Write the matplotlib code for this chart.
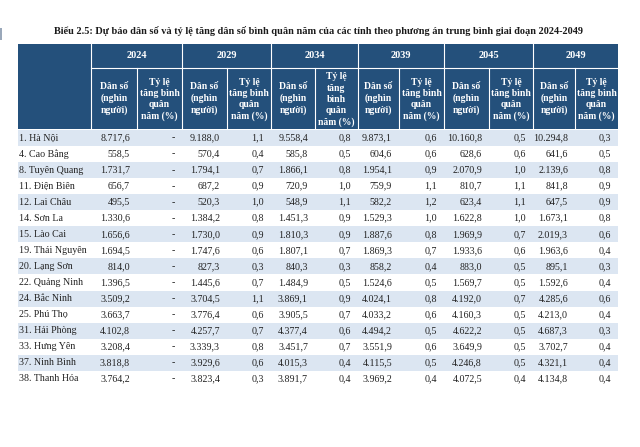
import matplotlib.pyplot as plt
from matplotlib.patches import Rectangle

title = ("Biểu 2.5: Dự báo dân số và tỷ lệ tăng dân số bình quân năm của các tỉnh "
         "theo phương án trung bình giai đoạn 2024-2049")
years = ["2024", "2029", "2034", "2039", "2045", "2049"]
provinces = ["1. Hà Nội", "4. Cao Bằng", "8. Tuyên Quang", "11. Điện Biên", "12. Lai Châu",
             "14. Sơn La", "15. Lào Cai", "19. Thái Nguyên", "20. Lạng Sơn", "22. Quảng Ninh",
             "24. Bắc Ninh", "25. Phú Thọ", "31. Hải Phòng", "33. Hưng Yên", "37. Ninh Bình",
             "38. Thanh Hóa"]

pop_2024 = [8717.6, 558.5, 1731.7, 656.7, 495.5, 1330.6, 1656.6, 1694.5, 814.0, 1396.5,
            3509.2, 3663.7, 4102.8, 3208.4, 3818.8, 3764.2]
rate_2024 = [None, None, None, None, None, None, None, None, None, None,
             None, None, None, None, None, None]
pop_2029 = [9188.0, 570.4, 1794.1, 687.2, 520.3, 1384.2, 1730.0, 1747.6, 827.3, 1445.6,
            3704.5, 3776.4, 4257.7, 3339.3, 3929.6, 3823.4]
rate_2029 = [1.1, 0.4, 0.7, 0.9, 1.0, 0.8, 0.9, 0.6, 0.3, 0.7, 1.1, 0.6, 0.7, 0.8, 0.6, 0.3]
pop_2034 = [9558.4, 585.8, 1866.1, 720.9, 548.9, 1451.3, 1810.3, 1807.1, 840.3, 1484.9,
            3869.1, 3905.5, 4377.4, 3451.7, 4015.3, 3891.7]
rate_2034 = [0.8, 0.5, 0.8, 1.0, 1.1, 0.9, 0.9, 0.7, 0.3, 0.5, 0.9, 0.7, 0.6, 0.7, 0.4, 0.4]
pop_2039 = [9873.1, 604.6, 1954.1, 759.9, 582.2, 1529.3, 1887.6, 1869.3, 858.2, 1524.6,
            4024.1, 4033.2, 4494.2, 3551.9, 4115.5, 3969.2]
rate_2039 = [0.6, 0.6, 0.9, 1.1, 1.2, 1.0, 0.8, 0.7, 0.4, 0.5, 0.8, 0.6, 0.5, 0.6, 0.5, 0.4]
pop_2045 = [10160.8, 628.6, 2070.9, 810.7, 623.4, 1622.8, 1969.9, 1933.6, 883.0, 1569.7,
            4192.0, 4160.3, 4622.2, 3649.9, 4246.8, 4072.5]
rate_2045 = [0.5, 0.6, 1.0, 1.1, 1.1, 1.0, 0.7, 0.6, 0.5, 0.5, 0.7, 0.5, 0.5, 0.5, 0.5, 0.4]
pop_2049 = [10294.8, 641.6, 2139.6, 841.8, 647.5, 1673.1, 2019.3, 1963.6, 895.1, 1592.6,
            4285.6, 4213.0, 4687.3, 3702.7, 4321.1, 4134.8]
rate_2049 = [0.3, 0.5, 0.8, 0.9, 0.9, 0.8, 0.6, 0.4, 0.3, 0.4, 0.6, 0.4, 0.3, 0.4, 0.4, 0.4]

pop_head = "Dân số\n(nghìn\nngười)"
rate_head = "Tỷ lệ\ntăng bình\nquân\nnăm (%)"
rate_head_narrow = "Tỷ lệ\ntăng\nbình\nquân\nnăm (%)"

columns = [pop_2024, rate_2024, pop_2029, rate_2029, pop_2034, rate_2034,
           pop_2039, rate_2039, pop_2045, rate_2045, pop_2049, rate_2049]


def vn(v):
    if v is None:
        return "-"
    s = f"{v:,.1f}"
    return s.replace(",", "_").replace(".", ",").replace("_", ".")


# layout in pixels
edges = [18, 91, 137, 182, 227, 271, 315, 358, 399, 444, 489, 533, 575, 618]
head_top, year_bot, head_bot = 44, 68, 129
row_top, row_h = 130, 16.05
blue = "#24507B"
band = "#DCE6F2"
ink = "#222222"
serif = ["Liberation Serif", "DejaVu Serif"]

fig = plt.figure(figsize=(6.4, 4.47), dpi=100)
ax = fig.add_axes([0, 0, 1, 1])
ax.set_xlim(0, 640)
ax.set_ylim(447, 0)
ax.axis("off")

ax.add_patch(Rectangle((0, 28), 2, 12, color="#9AA8BA", lw=0))
ax.text(318, 31, title, ha="center", va="center", fontsize=7.4, fontweight="bold",
        family=serif, color="#1a1a1a")

# header block
ax.add_patch(Rectangle((edges[0], head_top), edges[-1] - edges[0], head_bot - head_top,
                       color=blue, lw=0))
for k in range(1, len(edges) - 1):
    top = head_top if k % 2 == 1 else year_bot
    ax.plot([edges[k], edges[k]], [top, head_bot], color="white", lw=0.8)
ax.plot([edges[1], edges[-1]], [year_bot, year_bot], color="white", lw=0.8)

for g, yr in enumerate(years):
    x0, x1 = edges[1 + 2 * g], edges[3 + 2 * g]
    ax.text((x0 + x1) / 2, (head_top + year_bot) / 2, yr, ha="center", va="center",
            fontsize=7.5, fontweight="bold", color="white", family=serif)
    xa, xb, xc = edges[1 + 2 * g], edges[2 + 2 * g], edges[3 + 2 * g]
    ymid = (year_bot + head_bot) / 2
    ax.text((xa + xb) / 2, ymid, pop_head, ha="center", va="center", fontsize=6.9,
            fontweight="bold", color="white", family=serif, linespacing=1.3)
    rh = rate_head_narrow if yr == "2034" else rate_head
    ax.text((xb + xc) / 2, ymid + 1, rh, ha="center", va="center", fontsize=6.9,
            fontweight="bold", color="white", family=serif, linespacing=1.3)

# body
for i, name in enumerate(provinces):
    y0 = row_top + i * row_h
    if i % 2 == 0:
        ax.add_patch(Rectangle((edges[0], y0), edges[-1] - edges[0], row_h, color=band, lw=0))
    yc = y0 + row_h / 2
    ax.text(edges[0] + 1, yc, name, ha="left", va="center", fontsize=7.2,
            color=ink, family=serif)
    for j, col in enumerate(columns):
        ax.text(edges[j + 2] - 7, yc, vn(col[i]), ha="right", va="center",
                fontsize=7.2, color=ink, family=serif)

fig.savefig("out.png", dpi=100)
